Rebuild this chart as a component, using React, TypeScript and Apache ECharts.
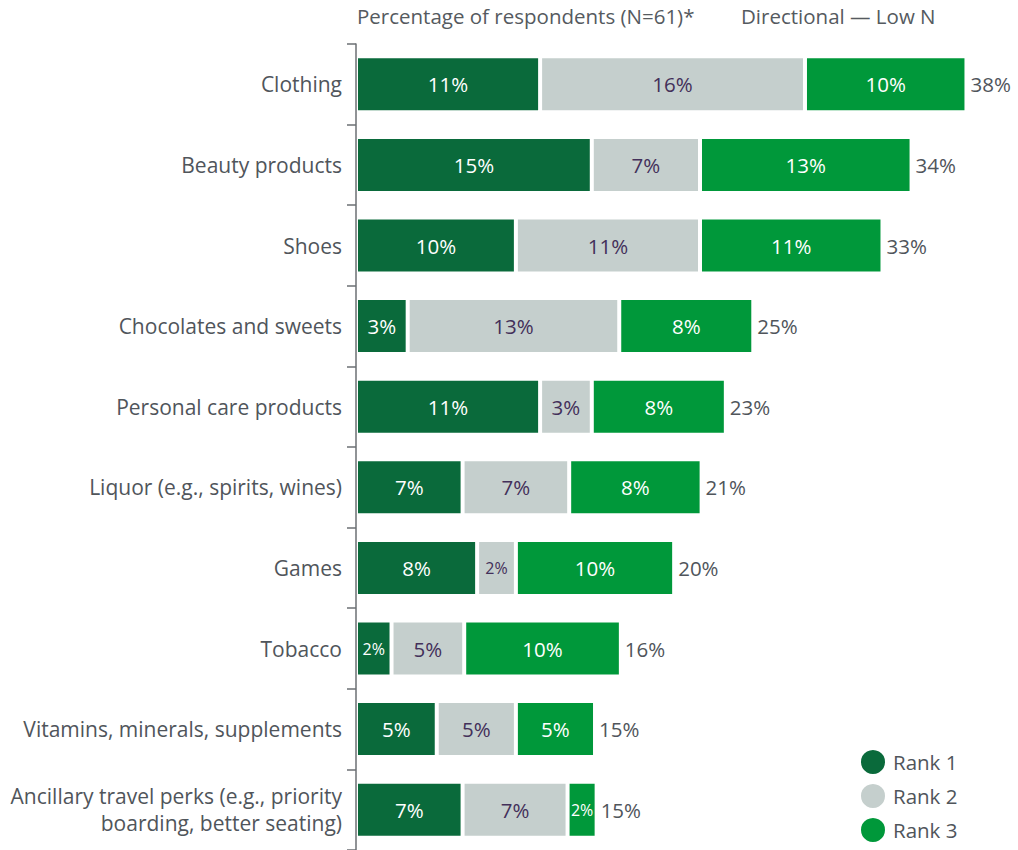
import React, { useEffect, useRef } from "react";
import * as echarts from "echarts";

const categories = [
  "Clothing",
  "Beauty products",
  "Shoes",
  "Chocolates and sweets",
  "Personal care products",
  "Liquor (e.g., spirits, wines)",
  "Games",
  "Tobacco",
  "Vitamins, minerals, supplements",
  "Ancillary travel perks (e.g., priority\nboarding, better seating)",
];
const seriesNames = ["Rank 1", "Rank 2", "Rank 3"];
const rank1 = [11.4, 14.6, 9.9, 3.2, 11.4, 6.6, 7.5, 2.2, 5.0, 6.6];
const rank2 = [16.4, 6.7, 11.4, 13.1, 3.2, 6.6, 2.4, 4.5, 4.9, 6.5];
const rank3 = [10.0, 13.1, 11.3, 8.3, 8.3, 8.2, 9.8, 9.7, 4.9, 1.8];
const headerLeft = "Percentage of respondents (N=61)*";
const headerRight = "Directional \u2014 Low N";

const FONT = "'Open Sans', sans-serif";
const colors = ["#0a6a3b", "#c5cfcd", "#00983a"];
const labelColors = ["#ffffff", "#43305a", "#ffffff"];
const TEXT = "#50555b";

export default function App() {
  const ref = useRef<HTMLDivElement>(null);
  useEffect(() => {
    if (!ref.current) return;
    const chart = echarts.init(ref.current, null, { renderer: "svg" });
    const all = [rank1, rank2, rank3];
    const totals = categories.map((_, i) => rank1[i] + rank2[i] + rank3[i]);
    const mkSeries = (idx: number) => ({
      name: seriesNames[idx],
      type: "bar",
      stack: "total",
      barWidth: 56,
      data: all[idx],
      itemStyle: { color: colors[idx], borderColor: "#ffffff", borderWidth: 2 },
      label: {
        show: true,
        position: "inside",
        color: labelColors[idx],
        fontFamily: FONT,
        fontSize: 20.5,
        formatter: (p: any) => {
          const v = Math.round(p.value);
          return p.value < 3 ? `{s|${v}%}` : `${v}%`;
        },
        rich: { s: { fontSize: 16, color: labelColors[idx], fontFamily: FONT } },
      },
    });
    chart.setOption({
      animation: false,
      grid: { left: 356, right: 16, top: 44, bottom: -7, containLabel: false },
      legend: {
        orient: "vertical",
        left: 859,
        top: 748,
        height: 140,
        padding: 0,
        itemWidth: 26,
        itemHeight: 26,
        itemGap: 6,
        icon: "circle",
        data: seriesNames,
        textStyle: { fontFamily: FONT, fontSize: 20.5, color: TEXT, padding: [0, 0, 0, 2] },
      },
      xAxis: { type: "value", min: 0, max: 40, show: false },
      yAxis: {
        type: "category",
        data: categories,
        inverse: true,
        z: 3,
        axisLine: { show: true, lineStyle: { color: "#6b6f73", width: 1.5 } },
        axisTick: { show: true, length: 9, lineStyle: { color: "#6b6f73", width: 1.5 } },
        axisLabel: {
          fontFamily: FONT,
          fontSize: 21,
          color: TEXT,
          margin: 14,
          lineHeight: 27,
          align: "right",
        },
      },
      graphic: [
        {
          type: "text",
          left: 357,
          top: 5,
          style: { text: headerLeft, fontFamily: FONT, fontSize: 20.5, fill: "#555a60" },
        },
        {
          type: "text",
          left: 741,
          top: 5,
          style: { text: headerRight, fontFamily: FONT, fontSize: 20.5, fill: "#555a60" },
        },
      ],
      series: [
        mkSeries(0),
        mkSeries(1),
        mkSeries(2),
        {
          name: "Total",
          type: "bar",
          stack: "total",
          barWidth: 56,
          data: categories.map(() => 0),
          itemStyle: { color: "transparent", borderWidth: 0 },
          label: {
            show: true,
            position: "right",
            distance: 4,
            fontFamily: FONT,
            fontSize: 20.5,
            color: TEXT,
            formatter: (p: any) => `${Math.round(totals[p.dataIndex])}%`,
          },
        },
      ],
    });
    return () => chart.dispose();
  }, []);
  return (
    <div
      ref={ref}
      style={{ position: "fixed", left: 0, top: 0, width: 1018, height: 850, background: "#fff" }}
    />
  );
}
